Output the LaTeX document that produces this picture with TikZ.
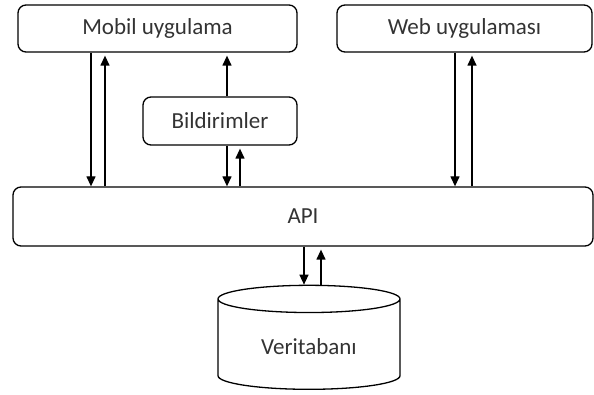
\documentclass[tikz,border=0pt]{standalone}
\usepackage{fontspec}
\setmainfont{Carlito}
\usetikzlibrary{arrows.meta,shapes.geometric}
\tikzset{
  box/.style={draw, rounded corners=4pt, line width=0.65pt, font=\fontsize{11.5}{13}\selectfont, text=black!80},
  dbase/.style={draw, cylinder, shape border rotate=90, aspect=0.25, line width=0.65pt, font=\fontsize{11.5}{13}\selectfont, text=black!80},
  arr/.style={-{Triangle[length=5pt,width=4.5pt]}, line width=0.65pt},
  uparr/.style={arr, shorten >=1.5pt}
}

\begin{document}
\begin{tikzpicture}[x=0.5pt, y=-0.5pt]
			%%%%% START %%%%%
			\useasboundingbox (0, 0) rectangle (594, 395);
			
			\node[box, minimum width=139.5pt, minimum height=23.5pt] (mobile) at (157.5, 28.5) {Mobil uygulama};
			\node[box, minimum width=127.5pt, minimum height=23.5pt] (web) at (464.5, 28.5) {Web uygulaması};
			\node[box, minimum width=77pt, minimum height=24pt] (notif) at (220, 121) {Bildirimler};
			\node[box, minimum width=290pt, minimum height=29.5pt] (api) at (303, 216.5) {API};
			\node[dbase, minimum width=91pt, minimum height=52pt] (db) at (309, 347) {Veritabanı};
			
			% mobil <-> api
			\draw[arr] (mobile.south -| 91, 0) -- (api.north -| 91, 0);
			\draw[uparr] (api.north -| 105, 0) -- (mobile.south -| 105, 0);
			
			% bildirimler
			\draw[uparr] (notif.north -| 227, 0) -- (mobile.south -| 227, 0);
			\draw[arr] (notif.south -| 227, 0) -- (api.north -| 227, 0);
			\draw[uparr] (api.north -| 240, 0) -- (notif.south -| 240, 0);
			
			% web <-> api
			\draw[arr] (web.south -| 455, 0) -- (api.north -| 455, 0);
			\draw[uparr] (api.north -| 472, 0) -- (web.south -| 472, 0);
			
			% api <-> veritabani
			\draw[arr] (api.south -| 304, 0) -- (db.north -| 304, 0);
			\draw[uparr] (db.north -| 321, 0) -- (api.south -| 321, 0);
			%%%%% END %%%%%
\end{tikzpicture}
\end{document}
